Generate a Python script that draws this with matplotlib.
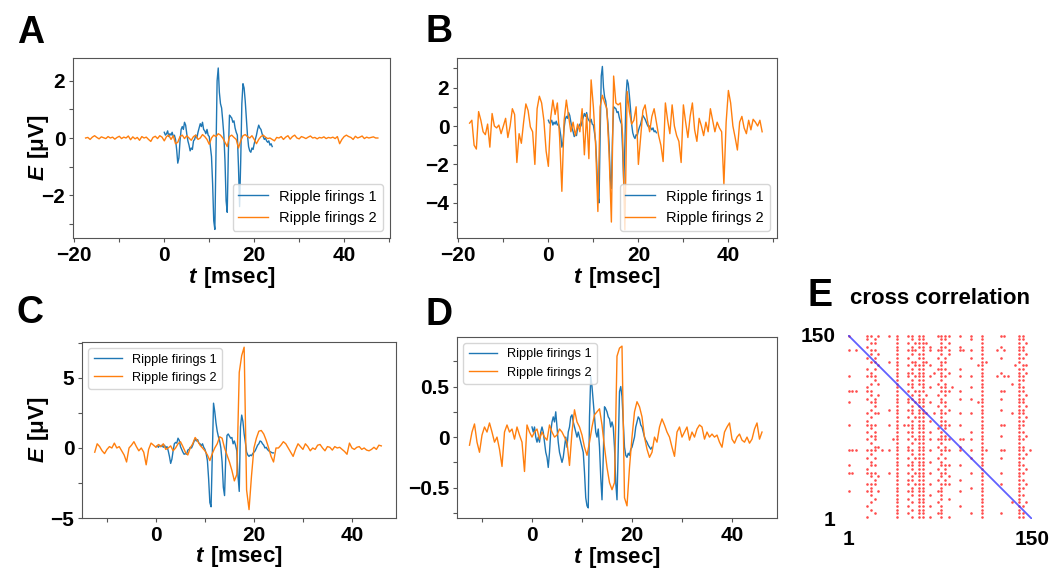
"""
Ripple firing traces (panels A-D) and a cross-correlation raster (panel E).
"""

import matplotlib
matplotlib.use("Agg")  # non-interactive backend
import matplotlib.pyplot as plt
import numpy as np
from matplotlib.ticker import FixedLocator, FuncFormatter

# ── Fonts ─────────────────────────────────────────────────────────────────────

plt.rcParams["font.family"] = ["Liberation Sans", "DejaVu Sans"]
plt.rcParams["font.weight"] = "bold"
plt.rcParams["mathtext.fontset"] = "custom"
plt.rcParams["mathtext.rm"] = "Liberation Sans:bold"
plt.rcParams["mathtext.bf"] = "Liberation Sans:bold"
plt.rcParams["mathtext.bfit"] = "Liberation Sans:italic:bold"

# ── Data ──────────────────────────────────────────────────────────────────────
# blue traces: 0 .. 24 ms, orange traces: see start / end below

A_BLUE = [
    0.20, 0.10, 0.15, 0.25, 0.05, 0.15, 0.10, 0.20, 0.05, 0.10,
    -0.05, -0.40, -0.88, -0.70, -0.10, 0.30, 0.40, 0.30, 0.55, 0.45,
    0.15, -0.10, -0.25, -0.45, -0.35, -0.40, -0.10, -0.05, 0.10, 0.00,
    0.20, 0.35, 0.50, 0.40, 0.55, 0.30, 0.25, 0.15, 0.30, 0.10,
    0.05, -0.30, -0.65, -1.60, -2.90, -3.20, -0.50, 2.00, 2.45, 1.60,
    1.20, 1.05, 0.60, 0.10, -0.80, -2.20, -2.60, -0.50, 0.80, 0.75,
    0.70, 0.55, 0.60, 0.35, 0.20, 0.10, -1.00, -2.40, -0.80, 1.20,
    1.90, 1.75, 1.30, 0.70, 0.10, -0.30, -0.45, -0.50, -0.35, -0.40,
    -0.20, -0.05, 0.10, 0.30, 0.45, 0.35, 0.30, 0.15, 0.05, -0.05,
    0.00, -0.10, -0.15, -0.10, -0.25, -0.20, -0.30,
]
A_ORANGE = [
    0.00, 0.02, -0.05, 0.03, 0.08, 0.02, -0.03, 0.04, 0.01, -0.02,
    0.05, 0.00, 0.03, -0.04, 0.02, 0.06, -0.02, 0.03, 0.00, 0.07,
    -0.06, 0.04, -0.03, 0.02, -0.08, 0.05, 0.00, 0.03, -0.05, -0.12,
    0.02, 0.06, -0.02, 0.08, 0.03, -0.10, 0.05, 0.10, -0.05, 0.08,
    -0.20, -0.15, 0.05, 0.10, -0.02, 0.08, 0.00, -0.08, 0.05, 0.10,
    -0.05, 0.00, 0.12, 0.05, -0.05, -0.22, 0.00, 0.10, 0.05, 0.15,
    0.10, 0.00, -0.15, -0.30, 0.05, 0.10, 0.02, -0.05, -0.35, -0.10,
    0.08, 0.12, 0.05, 0.00, 0.08, -0.05, -0.20, -0.05, 0.05, 0.10,
    0.03, -0.02, 0.00, -0.05, -0.10, 0.02, 0.00, 0.05, -0.05, 0.03,
    0.08, -0.04, 0.05, 0.10, 0.00, -0.03, 0.05, 0.02, -0.02, 0.03,
    0.07, 0.00, 0.02, -0.03, 0.02, 0.00, 0.04, -0.02, 0.02, 0.00,
    0.03, -0.02, 0.05, -0.20, -0.05, 0.05, 0.10, 0.05, 0.02, -0.05,
    0.06, 0.00, 0.03, 0.07, -0.02, 0.03, 0.00, 0.02, 0.04, 0.00,
    0.00,
]

B_BLUE = [
    0.30, 0.15, 0.20, 0.30, 0.05, 0.20, 0.10, 0.25, 0.05, 0.10,
    -0.10, -0.50, -1.10, -0.85, -0.10, 0.35, 0.50, 0.40, 0.70, 0.55,
    0.20, -0.10, -0.30, -0.55, -0.45, -0.50, -0.10, -0.05, 0.10, 0.00,
    0.25, 0.45, 0.65, 0.50, 0.70, 0.40, 0.30, 0.20, 0.35, 0.10,
    0.05, -0.35, -0.80, -2.00, -3.60, -4.00, -0.60, 2.60, 3.10, 2.00,
    1.50, 1.30, 0.75, 0.10, -1.00, -2.70, -3.25, -0.60, 1.00, 0.95,
    0.90, 0.70, 0.75, 0.45, 0.25, 0.10, -1.25, -3.00, -1.00, 1.50,
    2.40, 2.20, 1.60, 0.90, 0.10, -0.35, -0.55, -0.65, -0.45, -0.50,
    -0.25, -0.05, 0.10, 0.35, 0.55, 0.45, 0.35, 0.20, 0.05, -0.05,
    0.00, -0.10, -0.20, -0.10, -0.30, -0.25, -0.35,
]
B_ORANGE = [
    0.15, 0.30, -1.00, -1.20, 0.75, 0.30, -0.30, -0.45, 0.10, -1.10,
    0.65, 0.00, -0.10, 0.05, -0.40, 0.00, 0.40, -0.60, 0.00, 0.90,
    0.60, -1.90, -0.40, -0.90, 0.20, 1.15, 0.80, -0.05, -0.30, -2.00,
    0.90, 1.55, 1.20, 0.30, -1.30, -2.10, 0.40, 1.35, 0.60, 1.20,
    -0.60, -3.40, 0.30, 1.35, 0.50, -0.30, 0.20, -0.50, 0.10, -0.30,
    0.90, -1.50, 0.60, -1.70, 2.40, 1.00, -1.00, -4.45, 1.00, 1.60,
    1.20, 0.90, -1.50, -5.00, 2.60, 1.20, 1.10, 1.20, -0.50, -5.40,
    1.80, 0.75, 0.10, 0.30, 1.00, -2.00, -0.60, 0.80, 1.10, 0.30,
    -0.30, 0.50, 0.90, 0.20, -0.50, -1.00, -1.85, 1.20, 0.30, -0.40,
    1.10, 0.00, -0.50, -0.80, -1.90, 1.10, 0.20, -0.60, 0.50, 1.20,
    -0.20, -0.80, 0.40, 0.00, -0.50, 0.20, -0.30, 0.90, 0.30, -0.30,
    0.20, -0.10, -0.30, -3.05, 0.20, 1.85, 1.20, 0.00, -0.60, -1.25,
    0.20, 0.50, -0.10, -0.40, 0.30, -0.20, 0.35, 0.20, 0.00, 0.30,
    -0.30,
]

C_BLUE = [
    0.10, 0.15, 0.05, 0.20, 0.10, 0.20, 0.05, 0.20, 0.00, 0.10,
    -0.20, -0.60, -1.10, -0.80, -0.20, 0.30, 0.40, 0.35, 0.70, 0.55,
    0.10, -0.10, -0.30, -0.45, -0.40, -0.45, -0.15, -0.10, 0.05, 0.00,
    0.20, 0.45, 0.65, 0.50, 0.60, 0.35, 0.30, 0.15, 0.30, 0.05,
    -0.10, -0.40, -0.90, -2.20, -3.90, -4.20, -0.50, 3.20, 2.60, 1.80,
    1.20, 0.80, 0.50, 0.00, -1.00, -2.80, -3.40, -0.60, 0.90, 1.00,
    0.85, 0.70, 0.75, 0.30, 0.50, 0.20, -0.20, -2.00, -3.10, 1.50,
    2.35, 1.90, 1.00, 0.40, -0.30, -0.50, -0.60, -0.50, -0.55, -0.40,
    -0.30, -0.20, 0.00, 0.20, 0.30, 0.50, 0.45, 0.30, 0.20, 0.00,
    0.05, -0.10, -0.20, -0.25, -0.30, -0.35, -0.35,
]
C_ORANGE = [
    -0.30, 0.30, 0.10, -0.20, -0.40, -0.10, 0.10, 0.00, 0.35, 0.00,
    0.10, -0.20, -0.50, -1.00, 0.00, 0.20, 0.45, 0.10, -0.20, 0.00,
    -0.30, -1.20, -0.10, 0.35, 0.20, 0.05, 0.25, 0.10, 0.30, -0.10,
    0.00, 0.15, -0.20, 0.00, 0.30, 0.45, 0.10, -0.30, -0.50, 0.00,
    0.30, 0.75, 0.50, 0.20, 0.00, -0.20, -0.50, -0.90, -0.40, 0.00,
    0.30, 0.80, 0.70, 0.00, -0.50, -1.00, -1.60, -2.35, -1.90, 5.40,
    6.60, 7.20, -3.00, -4.40, -2.00, 0.00, 0.70, 1.20, 1.25, 1.00,
    0.55, 0.00, -0.60, -1.00, 0.00, 0.00, 0.20, 0.45, 0.30, 0.00,
    -0.30, -0.60, -0.10, 0.30, 0.10, -0.10, 0.30, 0.10, -0.20, 0.00,
    -0.10, 0.20, 0.25, 0.00, -0.20, 0.10, 0.05, -0.15, 0.10, 0.00,
    0.05, -0.10, -0.25, -0.45, 0.35, 0.00, -0.10, 0.05, 0.10, -0.10,
    0.00, -0.15, -0.20, -0.10, 0.05, -0.10, 0.20, 0.15,
]

D_BLUE = [
    0.10, 0.05, 0.10, 0.00, -0.05, 0.00, -0.05, 0.05, 0.10, 0.05,
    -0.05, -0.15, -0.20, -0.30, -0.15, 0.05, 0.15, 0.20, 0.15, 0.25,
    0.10, -0.05, -0.15, -0.20, -0.25, -0.20, -0.10, 0.00, -0.10, 0.05,
    0.10, 0.20, 0.22, 0.15, 0.10, 0.05, 0.00, 0.05, 0.00, -0.05,
    -0.10, -0.15, -0.35, -0.60, -0.68, -0.70, 0.20, 0.60, 0.50, 0.35,
    0.20, 0.05, 0.00, 0.08, -0.10, -0.40, -0.62, -0.20, 0.30, 0.28,
    0.25, 0.20, 0.18, 0.10, 0.15, 0.10, -0.10, -0.45, -0.62, -0.10,
    0.45, 0.50, 0.40, 0.15, -0.10, -0.18, -0.20, -0.16, -0.18, -0.12,
    -0.10, -0.05, 0.00, 0.10, 0.15, 0.20, 0.18, 0.12, 0.10, 0.05,
    0.00, -0.03, -0.05, -0.08, -0.10, -0.12, -0.10,
]
D_ORANGE = [
    -0.08, 0.05, 0.13, -0.05, -0.15, 0.02, 0.10, 0.05, 0.14, 0.05,
    -0.05, 0.00, -0.12, -0.29, 0.05, 0.12, 0.05, 0.08, -0.02, 0.10,
    0.02, -0.05, -0.34, 0.12, 0.05, 0.00, 0.05, 0.08, -0.02, 0.05,
    0.00, -0.03, 0.12, 0.05, 0.00, 0.02, 0.08, 0.05, 0.00, -0.05,
    -0.28, 0.05, 0.27, 0.15, 0.10, 0.02, -0.10, -0.18, -0.05, 0.10,
    0.22, 0.25, 0.28, 0.12, -0.10, -0.30, -0.45, -0.52, -0.45, 0.80,
    0.88, 0.90, -0.60, -0.68, -0.30, 0.00, 0.25, 0.35, 0.30, 0.20,
    0.00, -0.12, -0.20, -0.15, 0.00, -0.05, 0.10, 0.18, 0.12, 0.05,
    0.00, -0.10, -0.19, 0.05, 0.10, 0.00, 0.05, 0.10, -0.03, 0.05,
    0.00, 0.08, 0.12, 0.10, -0.02, 0.05, 0.00, 0.03, 0.00, 0.02,
    -0.05, -0.10, 0.05, 0.10, 0.14, -0.02, -0.06, 0.00, 0.03, -0.03,
    -0.05, 0.00, -0.06, -0.02, 0.08, 0.14, -0.02, 0.05,
]

BLUE_SPAN = (0.0, 24.0)          # ms
ORANGE_SPAN_AB = (-17.5, 47.5)   # ms
ORANGE_SPAN_CD = (-12.5, 46.0)   # ms
LEGEND_LABELS = ["Ripple firings 1", "Ripple firings 2"]

# cross correlation raster, 50 x 50 cells of 3 neurons, top row = 150
CC_ROWS = [
    "o....oo.o." ".o.o..oo.o" "o...oooo.." "o..o..o..." ".oo...oo..",
    ".....o.o.." "...o...o.o" "o....oo..." "...o..o..." "......oo..",
    "......oo.." "...o..o.oo" "oo...o.o.." "......o..." "......o.o.",
    ".....o...." "...o...o.o" "o.o..oo..." "o.....o..." ".o....oo..",
    "o.o...oo.." "...o..ooo." "o.o.oo.o.." "oo.o..o..." "o.o...oo..",
    "......o.o." "...o...o.o" "o....o.o.." "......o..." "......o.o.",
    ".....o.o.." "...o..o..o" "o...o.o..." "...o..o..." ".o....oo..",
    "......oo.." ".o.o...oo." "oo...oo..." "......oo.." "......o...",
    "........o." "...o..o.oo" "o.o..o...." ".....oo..." ".....o.oo.",
    ".....o.o.." "...o...o.o" "o...ooo..." "o.....o..." "......oo..",
    "......o..." "...o..oo.o" "o..o.o.o.." "......o..." ".o....o.o.",
    "o....ooo.." "...o..o.oo" "o.o..oo..." "o..o..o..." "o.oo..oo..",
    ".......o.." "...o...o.o" "o....o...." "......o..." "......oo..",
    "......o.o." "...o..oo.o" "o...o.o..." "......o..." "....o.o...",
    ".....o...." "...o...o.." "o.o..oo.o." "...o..o..." "......oo..",
    "ooo..oo..." "...o..o.oo" "o....ooo.." "o.....o..." ".oo...oo..",
    "......o.o." "...o...o.o" ".o..o.o..." "......o..." "......o.o.",
    ".....o.o.." "...o..oo.o" "o....o...." "o..o..o..." ".o....oo..",
    "o.....oo.." "...o..o.oo" "o.o..oo..." ".....oo..." "......oo..",
    ".......o.." "...o...o.o" "o...o.o..." "......o..." "......o.o.",
    "......o..." ".o.o..oo.o" "o....o.o.." "......o..." ".o....oo..",
    ".....o.oo." "...o...o.o" "oo.o.oo..." "o..o..o..." "....o.oo..",
    "......o..." "...o..o.oo" "o....o...." "......o..." "......o.o.",
    ".....o...." "...o...o.o" "o.o..oo..." "......o..." "......oo..",
    "o....ooo.." ".o.o.ooo.o" "o....ooo.." "o.....o..." ".oo...oo..",
    "......o..." "...o...o.o" "o...o.o..." "......o..." "......o...",
    ".....o.o.." "...o..oo.o" "o.o..o...." "...o..o..." "......oo..",
    "......oo.." "...o...o.o" "o....oo..." "......o..." ".o....o.o.",
    ".....o.o.." "..oo..o.oo" "o.o.oooo.." "oo.o..o..." "......oo..",
    "......o..." "...o...o.o" "o....o...." "......o..." "......o...",
    ".......oo." "...o..o..o" "o...o.o..." "o.....o..." "......oo..",
    "ooo..ooo.o" ".o.o..oo.o" "o.o..ooo.." "o..o..oo.." ".oo...oo.o",
    "......o..." "...o...o.o" "o....o...." "......o..." "......o.o.",
    ".....o.o.." "...o..o.oo" "o...o.o..." "...o..o..." ".o....oo..",
    "......o..." "...o...o.o" "o.o..o...." "......o..." "......o...",
    "o.....oo.." "...o..oo.o" "o....ooo.." "o.....o..." "......oo..",
    ".....o...." "...o...o.o" "o...o.o..." "......o..." "......o.o.",
    "oo...ooo.." ".o.o..o.oo" "o.o..oo..." "...o..o..." ".o....oo..",
    "......o.o." "...o...o.o" "o....o.o.." "......o..." "......o...",
    ".......o.." "...o..oo.o" "o...o.o..." "o.....o..." "......oo..",
    ".....ooo.." "...o..o.oo" "o.o..ooo.." "......o..." ".o....o.o.",
    "......o..." "...o...o.o" "o....o...." "...o..o..." "......oo..",
    "o....oo.o." "...o..oo.o" "o...oo...." "o.....o..." "......o...",
    "......o..." "...o...o.o" "o.o..o...." "......o..." "......oo..",
    ".......o.." "...o..o..o" "o....o.o.." "......o..." "......o...",
    "......o..." "...o...o.o" "o...o....." "......o..." "....o.o.o.",
    ".....o...." "...o..o..o" "o.o..o...." "o.....o..." "......oo..",
    "......o..." "...o...o.o" "o....o...." "......o..." "......o...",
    ".......o.." "...o..o..o" "o...oo...." "...o..o..." ".o....oo..",
    ".....o...." "...o...o.o" "o.o..o.o.." "......o..." "......oo..",
]
CC_N = 150      # neurons
CC_CELL = 3     # neurons per raster cell

# ── Style ─────────────────────────────────────────────────────────────────────

W, H = 1053, 571
BLUE = "#1f77b4"
ORANGE = "#ff7f0e"
SPINE = "#555555"
E_LABEL = r"$\mathbfit{E}\ \mathbf{[μV]}$"
T_LABEL = r"$\mathbfit{t}\ \mathbf{[msec]}$"


def box(left, top, right, bottom):
    """Pixel box (from top-left) -> figure fraction rect."""
    return [left / W, 1 - bottom / H, (right - left) / W, (bottom - top) / H]


def every(step):
    """Label only the ticks that are multiples of `step`."""
    def fmt(v, pos):
        k = v / step
        if abs(k - round(k)) > 1e-6:
            return ""
        if abs(v) < 1e-9:
            return "0"
        return f"{v:g}".replace("-", "\u2212")
    return FuncFormatter(fmt)


def trace_panel(ax, blue, orange, orange_span, xlim, xticks, xstep,
                ylim, yticks, ystep, legend_loc, legend_size, handle_len,
                ylabel):
    t_blue = np.linspace(*BLUE_SPAN, len(blue))
    t_orange = np.linspace(*orange_span, len(orange))
    ax.plot(t_blue, blue, color=BLUE, lw=1.0, label=LEGEND_LABELS[0])
    ax.plot(t_orange, orange, color=ORANGE, lw=1.0, label=LEGEND_LABELS[1])

    ax.set_xlim(*xlim)
    ax.set_ylim(*ylim)
    ax.xaxis.set_major_locator(FixedLocator(xticks))
    ax.xaxis.set_major_formatter(every(xstep))
    ax.yaxis.set_major_locator(FixedLocator(yticks))
    ax.yaxis.set_major_formatter(every(ystep))
    ax.tick_params(labelsize=15, length=3, color=SPINE, pad=2.5)
    for s in ax.spines.values():
        s.set_color(SPINE)

    ax.set_xlabel(T_LABEL, fontsize=16)
    ax.xaxis.set_label_coords(0.5, -0.15)
    if ylabel:
        ax.set_ylabel(E_LABEL, fontsize=16)
        ax.yaxis.set_label_coords(ylabel, 0.5)

    ax.legend(loc=legend_loc, handlelength=handle_len,
              prop={"size": legend_size, "weight": "normal"})


# ── Figure ────────────────────────────────────────────────────────────────────

fig = plt.figure(figsize=(W / 100, H / 100), dpi=100)
fig.patch.set_facecolor("white")

ab_x = np.arange(-20, 51, 10)
cd_x = np.arange(-10, 41, 10)

ax_a = fig.add_axes(box(73, 58, 390, 238))
trace_panel(ax_a, A_BLUE, A_ORANGE, ORANGE_SPAN_AB, (-20.3, 50.2), ab_x, 20,
            (-3.5, 2.8), np.arange(-3, 3), 2, "lower right", 10.5, 2.0,
            -0.07)

ax_b = fig.add_axes(box(457, 58, 777, 238))
trace_panel(ax_b, B_BLUE, B_ORANGE, ORANGE_SPAN_AB, (-20.3, 50.8), ab_x, 20,
            (-5.83, 3.54), np.arange(-5, 4), 2, "lower right", 10.5, 2.0,
            None)

ax_c = fig.add_axes(box(82, 342, 396, 518))
trace_panel(ax_c, C_BLUE, C_ORANGE, ORANGE_SPAN_CD, (-15.1, 49.0), cd_x, 20,
            (-5.0, 7.57), np.arange(-5, 7.6, 2.5), 5, "upper left", 9.2, 2.2,
            -0.1)

ax_d = fig.add_axes(box(457, 337, 777, 518))
trace_panel(ax_d, D_BLUE, D_ORANGE, ORANGE_SPAN_CD, (-15.0, 49.0), cd_x, 20,
            (-0.80, 0.99), np.arange(-0.75, 0.8, 0.25), 0.5, "upper left",
            9.2, 2.2, None)

# ── Panel E: cross correlation raster ─────────────────────────────────────────

ax_e = fig.add_axes(box(848, 335, 1032, 519))
cells = [row.ljust(50, ".")[:50] for row in CC_ROWS]
cx, cy = [], []
for r, row in enumerate(cells):
    for c, ch in enumerate(row):
        if ch == "o":
            cx.append(1.5 + CC_CELL * c)
            cy.append(CC_N - 0.5 - CC_CELL * r)
ax_e.scatter(cx, cy, s=3.5, color="red", alpha=0.7, linewidths=0,
             clip_on=False)
ax_e.plot([1, CC_N], [CC_N, 1], color="#3a3aff", lw=1.3, alpha=0.8)
ax_e.set_xlim(1, CC_N)
ax_e.set_ylim(1, CC_N)
ax_e.set_xticks([1, CC_N])
ax_e.set_yticks([1, CC_N])
ax_e.tick_params(axis="x", length=0, labelsize=15, pad=8)
ax_e.tick_params(axis="y", length=0, labelsize=15, pad=9)
for s in ax_e.spines.values():
    s.set_visible(False)

fig.text(940 / W, 1 - 298 / H, "cross correlation", fontsize=16,
         ha="center", va="center")

# ── Panel letters ─────────────────────────────────────────────────────────────

for letter, x, y in [("A", 17, 43), ("B", 425, 42), ("C", 17, 323),
                     ("D", 425, 325), ("E", 808, 306)]:
    fig.text(x / W, 1 - y / H, letter, fontsize=27, va="baseline")

fig.savefig("out.png", dpi=100, facecolor="white")
plt.close(fig)
